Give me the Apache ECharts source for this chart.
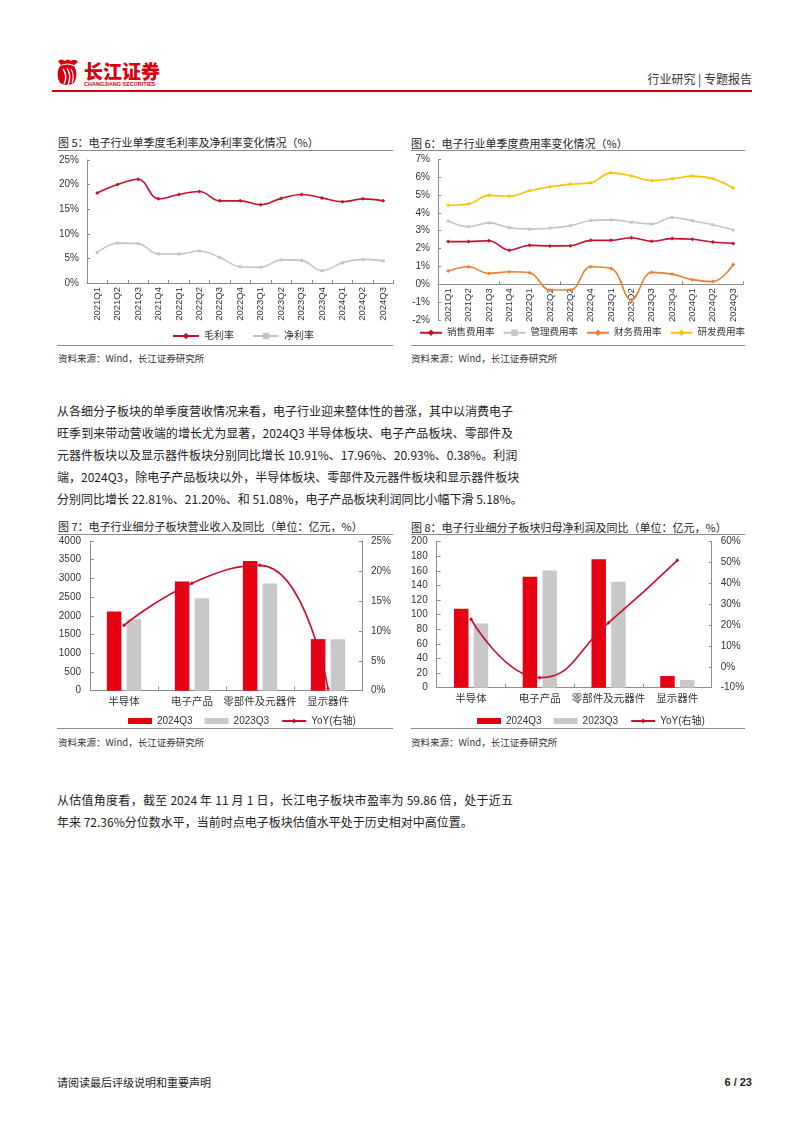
<!DOCTYPE html>
<html><head><meta charset="utf-8">
<script src="https://cdn.jsdelivr.net/npm/echarts/dist/echarts.min.js"></script>
<style>
html,body{margin:0;padding:0;background:#fff;}
#page{position:relative;width:802px;height:1133px;overflow:hidden;font-family:"Noto Sans CJK SC","Liberation Sans",sans-serif;color:#222;}
.t{position:absolute;white-space:nowrap;height:16px;line-height:16px;}
.title{font-size:11px;color:#222;}
.src{font-size:9.5px;color:#333;}
.hr{position:absolute;height:1px;background:#8c8c8c;}
.para{position:absolute;left:57px;width:456px;font-size:12px;color:#222;white-space:nowrap;height:18px;line-height:18px;}
.j{text-align:justify;text-align-last:justify;}
.chart{position:absolute;}
</style></head>
<body><div id="page">
<!-- header -->
<svg style="position:absolute;left:52px;top:57px" width="30" height="30" viewBox="0 0 30 30">
  <path d="M6 4 Q10 1 13 4 Q16 1 19 4 Q23 1 26 5 L22 8 Q15 5 9 8Z" fill="#d7000f"/>
  <path d="M8 9 Q15 6 22 9 Q27 17 22 26 Q15 30 8 26 Q3 17 8 9Z" fill="#d7000f"/>
  <path d="M11 12 Q16 19 12 27" stroke="#fff" stroke-width="1.4" fill="none"/>
  <path d="M15 11 Q20 19 16 28" stroke="#fff" stroke-width="1.4" fill="none"/>
  <path d="M19 12 Q23 19 20 26" stroke="#fff" stroke-width="1.2" fill="none"/>
</svg>
<div class="t" style="left:84px;top:60px;height:22px;line-height:22px;font-size:19px;font-weight:900;color:#d7000f;">长江证券</div>
<div class="t" style="left:84px;top:80px;height:8px;line-height:8px;font-size:5.5px;font-weight:bold;color:#d7000f;font-family:'Liberation Sans',sans-serif;">CHANGJIANG SECURITIES</div>
<div class="t" style="right:50px;top:71px;font-size:12px;color:#333;">行业研究&nbsp;|&nbsp;专题报告</div>
<div style="position:absolute;left:52px;top:90px;width:700px;height:2px;background:#d7000f;"></div>

<!-- figure 5/6 titles -->
<div class="t title" style="left:58px;top:134px;">图&nbsp;5：电子行业单季度毛利率及净利率变化情况（%）</div>
<div class="hr" style="left:57px;top:150px;width:336px;"></div>
<div class="t title" style="left:411px;top:135px;">图&nbsp;6：电子行业单季度费用率变化情况（%）</div>
<div class="hr" style="left:411px;top:150px;width:334px;"></div>
<div id="c5" class="chart" style="left:55px;top:150px;width:345px;height:195px;"></div>
<div id="c6" class="chart" style="left:405px;top:150px;width:345px;height:195px;"></div>
<div class="hr" style="left:57px;top:345px;width:336px;"></div>
<div class="hr" style="left:411px;top:345px;width:334px;"></div>
<div class="t src" style="left:58px;top:350px;">资料来源：Wind，长江证券研究所</div>
<div class="t src" style="left:411px;top:350px;">资料来源：Wind，长江证券研究所</div>

<!-- paragraph 1 -->
<div class="para j" style="top:402px;">从各细分子板块的单季度营收情况来看，电子行业迎来整体性的普涨，其中以消费电子</div>
<div class="para j" style="top:424px;">旺季到来带动营收端的增长尤为显著，2024Q3 半导体板块、电子产品板块、零部件及</div>
<div class="para j" style="top:446px;">元器件板块以及显示器件板块分别同比增长 10.91%、17.96%、20.93%、0.38%。利润</div>
<div class="para j" style="top:468px;">端，2024Q3，除电子产品板块以外，半导体板块、零部件及元器件板块和显示器件板块</div>
<div class="para" style="top:490px;">分别同比增长 22.81%、21.20%、和 51.08%，电子产品板块利润同比小幅下滑 5.18%。</div>

<!-- figure 7/8 -->
<div class="t title" style="left:58px;top:518px;">图&nbsp;7：电子行业细分子板块营业收入及同比（单位：亿元，%）</div>
<div class="hr" style="left:57px;top:534px;width:336px;"></div>
<div class="t title" style="left:411px;top:519px;">图&nbsp;8：电子行业细分子板块归母净利润及同比（单位：亿元，%）</div>
<div class="hr" style="left:411px;top:534px;width:334px;"></div>
<div id="c7" class="chart" style="left:55px;top:536px;width:345px;height:190px;"></div>
<div id="c8" class="chart" style="left:405px;top:536px;width:345px;height:190px;"></div>
<div class="hr" style="left:57px;top:728px;width:336px;"></div>
<div class="hr" style="left:411px;top:728px;width:334px;"></div>
<div class="t src" style="left:58px;top:734px;">资料来源：Wind，长江证券研究所</div>
<div class="t src" style="left:411px;top:734px;">资料来源：Wind，长江证券研究所</div>

<!-- paragraph 2 -->
<div class="para j" style="top:791px;">从估值角度看，截至 2024 年 11 月 1 日，长江电子板块市盈率为 59.86 倍，处于近五</div>
<div class="para" style="top:813px;">年来 72.36%分位数水平，当前时点电子板块估值水平处于历史相对中高位置。</div>

<!-- footer -->
<div class="t" style="left:57px;top:1074px;font-size:11px;color:#222;">请阅读最后评级说明和重要声明</div>
<div class="t" style="right:50px;top:1074px;font-size:11px;font-weight:bold;color:#222;font-family:'Liberation Sans',sans-serif;">6 / 23</div>
</div>
<script>
// ---------- data ----------
const quarters = ['2021Q1','2021Q2','2021Q3','2021Q4','2022Q1','2022Q2','2022Q3','2022Q4','2023Q1','2023Q2','2023Q3','2023Q4','2024Q1','2024Q2','2024Q3'];
const grossMargin = [18.3,20.0,21.1,17.1,18.0,18.6,16.7,16.7,15.9,17.2,18.0,17.3,16.5,17.1,16.7];
const netMargin   = [6.2,8.1,8.0,5.9,5.9,6.5,5.2,3.3,3.2,4.7,4.6,2.5,4.1,4.8,4.5];
const marginTicks = [0,5,10,15,20,25];

const salesExpRate = [2.39,2.39,2.44,1.91,2.18,2.15,2.16,2.46,2.46,2.61,2.41,2.56,2.52,2.37,2.29];
const adminExpRate = [3.54,3.22,3.44,3.17,3.09,3.15,3.28,3.57,3.61,3.48,3.37,3.74,3.56,3.33,3.04];
const finExpRate   = [0.74,0.98,0.61,0.70,0.65,-0.32,-0.32,0.98,0.89,-0.87,0.67,0.57,0.26,0.15,1.11];
const rdExpRate    = [4.43,4.50,4.98,4.93,5.24,5.46,5.61,5.68,6.24,6.07,5.81,5.91,6.06,5.91,5.39];
const expenseTicks = [-2,-1,0,1,2,3,4,5,6,7];

const segments = ['半导体','电子产品','零部件及元器件','显示器件'];
const revenue2024Q3 = [2117,2917,3467,1379];
const revenue2023Q3 = [1909,2473,2867,1374];
const revenueYoY    = [10.91,17.96,20.93,0.38];
const revenueTicks  = [0,500,1000,1500,2000,2500,3000,3500,4000];
const revenueYoYTicks = [0,5,10,15,20,25];

const profit2024Q3 = [108,152,176,16];
const profit2023Q3 = [88,160.5,145.2,10.6];
const profitYoY    = [22.81,-5.18,21.20,51.08];
const profitTicks  = [0,20,40,60,80,100,120,140,160,180,200];
const profitYoYTicks = [-10,0,10,20,30,40,50,60];

// ---------- styles ----------
const FONT = '"Liberation Sans","Noto Sans CJK SC",sans-serif';
const AXC = '#8c8c8c';
const TXT = '#333';
const RED = '#e60012';
const LRED = '#c8102e';
const GRAY = '#c8c8c8';
const LGRAY = '#c4c4c4';
const ORANGE = '#ed7d31';
const YELLOW = '#ffc000';
const rng = t => ({min:t[0], max:t[t.length-1], interval:t[1]-t[0]});
const plain = v => String(v);

function pctAxis(ticks, extra){
  return Object.assign({type:'value', ...rng(ticks),
    axisLine:{show:true,onZero:false,lineStyle:{color:AXC}},
    axisTick:{show:true,inside:true,length:3,lineStyle:{color:AXC}},
    splitLine:{show:false},
    axisLabel:{formatter:v=>v+'%',color:TXT,fontSize:10,fontFamily:FONT,margin:8}}, extra||{});
}
function quarterAxis(){
  return {type:'category',data:quarters,boundaryGap:true,
    axisLine:{show:true,onZero:true,lineStyle:{color:AXC}},
    axisTick:{show:true,inside:true,length:3,lineStyle:{color:AXC}},
    axisLabel:{rotate:90,color:TXT,fontSize:9.5,fontFamily:FONT,margin:4,interval:0}};
}
function lineSeries(name,data,color,extra){
  return Object.assign({name,type:'line',data,smooth:0.4,
    symbol:'diamond',symbolSize:4,showSymbol:true,
    lineStyle:{color,width:1.6},itemStyle:{color}},extra||{});
}

// ---------- chart 5 ----------
const c5 = echarts.init(document.getElementById('c5'));
c5.setOption({
  animation:false,
  grid:{left:32,top:10,width:306.5,height:123,containLabel:false,outerBoundsMode:'none'},
  xAxis:quarterAxis(),
  yAxis:pctAxis(marginTicks),
  legend:{left:112,top:176,itemWidth:26,itemHeight:8,itemGap:18,
    textStyle:{color:TXT,fontSize:10,fontFamily:FONT},
    data:['毛利率','净利率']},
  series:[lineSeries('毛利率',grossMargin,LRED),lineSeries('净利率',netMargin,LGRAY,{symbol:'rect',symbolSize:3})]
});

// ---------- chart 6 ----------
const g6 = {left:33,top:9.3,width:305.4,height:160.7};
const zeroOffset6 = g6.height * (0 - expenseTicks[0]) / (expenseTicks[expenseTicks.length-1] - expenseTicks[0]);
const c6 = echarts.init(document.getElementById('c6'));
const x6a = quarterAxis();
x6a.axisLabel = {show:false};
const x6b = quarterAxis();
x6b.axisLine = {show:false,onZero:false};
x6b.axisTick = {show:false};
x6b.position = 'bottom';
x6b.offset = -zeroOffset6;
c6.setOption({
  animation:false,
  grid:Object.assign({containLabel:false,outerBoundsMode:'none'},g6),
  xAxis:[x6a,x6b],
  yAxis:pctAxis(expenseTicks),
  legend:{left:14,top:178,width:335,padding:0,itemWidth:22,itemHeight:8,itemGap:8,
    textStyle:{color:TXT,fontSize:9.5,fontFamily:FONT},
    data:['销售费用率','管理费用率','财务费用率','研发费用率']},
  series:[
    lineSeries('销售费用率',salesExpRate,LRED),
    lineSeries('管理费用率',adminExpRate,LGRAY,{symbol:'rect',symbolSize:3}),
    lineSeries('财务费用率',finExpRate,ORANGE),
    lineSeries('研发费用率',rdExpRate,YELLOW)
  ]
});

// ---------- bar + yoy charts ----------
function barChart(el, gridOpt, leftTicks, rightTicks, cur, prev, yoy, legendLeft){
  const ch = echarts.init(document.getElementById(el));
  ch.setOption({
    animation:false,
    grid:Object.assign({containLabel:false,outerBoundsMode:'none'},gridOpt),
    xAxis:{type:'category',data:segments,
      axisLine:{show:true,onZero:false,lineStyle:{color:AXC}},
      axisTick:{show:true,inside:true,length:4,lineStyle:{color:AXC}},
      axisLabel:{color:TXT,fontSize:10.5,fontFamily:FONT,margin:6,interval:0}},
    yAxis:[
      {type:'value',...rng(leftTicks),
        axisLine:{show:true,lineStyle:{color:AXC}},
        axisTick:{show:true,inside:true,length:4,lineStyle:{color:AXC}},
        splitLine:{show:false},
        axisLabel:{formatter:plain,color:TXT,fontSize:10,fontFamily:FONT,margin:9}},
      pctAxis(rightTicks,{position:'right',axisLabel:{formatter:v=>v+'%',color:TXT,fontSize:10,fontFamily:FONT,margin:9}})
    ],
    legend:{left:legendLeft,top:175,itemWidth:24,itemHeight:6,itemGap:12,
      textStyle:{color:TXT,fontSize:10,fontFamily:FONT},
      data:[{name:'2024Q3',icon:'rect'},{name:'2023Q3',icon:'rect'},{name:'YoY(右轴)'}]},
    series:[
      {name:'2024Q3',type:'bar',data:cur,barWidth:14.5,barGap:'36%',itemStyle:{color:RED}},
      {name:'2023Q3',type:'bar',data:prev,barWidth:14.5,itemStyle:{color:GRAY}},
      {name:'YoY(右轴)',type:'line',yAxisIndex:1,data:yoy,smooth:0.5,
        symbol:'diamond',symbolSize:4,lineStyle:{color:LRED,width:1.6},itemStyle:{color:LRED}}
    ]
  });
  return ch;
}
barChart('c7',{left:35,top:5,width:272,height:149.7},revenueTicks,revenueYoYTicks,revenue2024Q3,revenue2023Q3,revenueYoY,68);
barChart('c8',{left:31.7,top:5.7,width:275,height:146},profitTicks,profitYoYTicks,profit2024Q3,profit2023Q3,profitYoY,67);
</script>
</body></html>
